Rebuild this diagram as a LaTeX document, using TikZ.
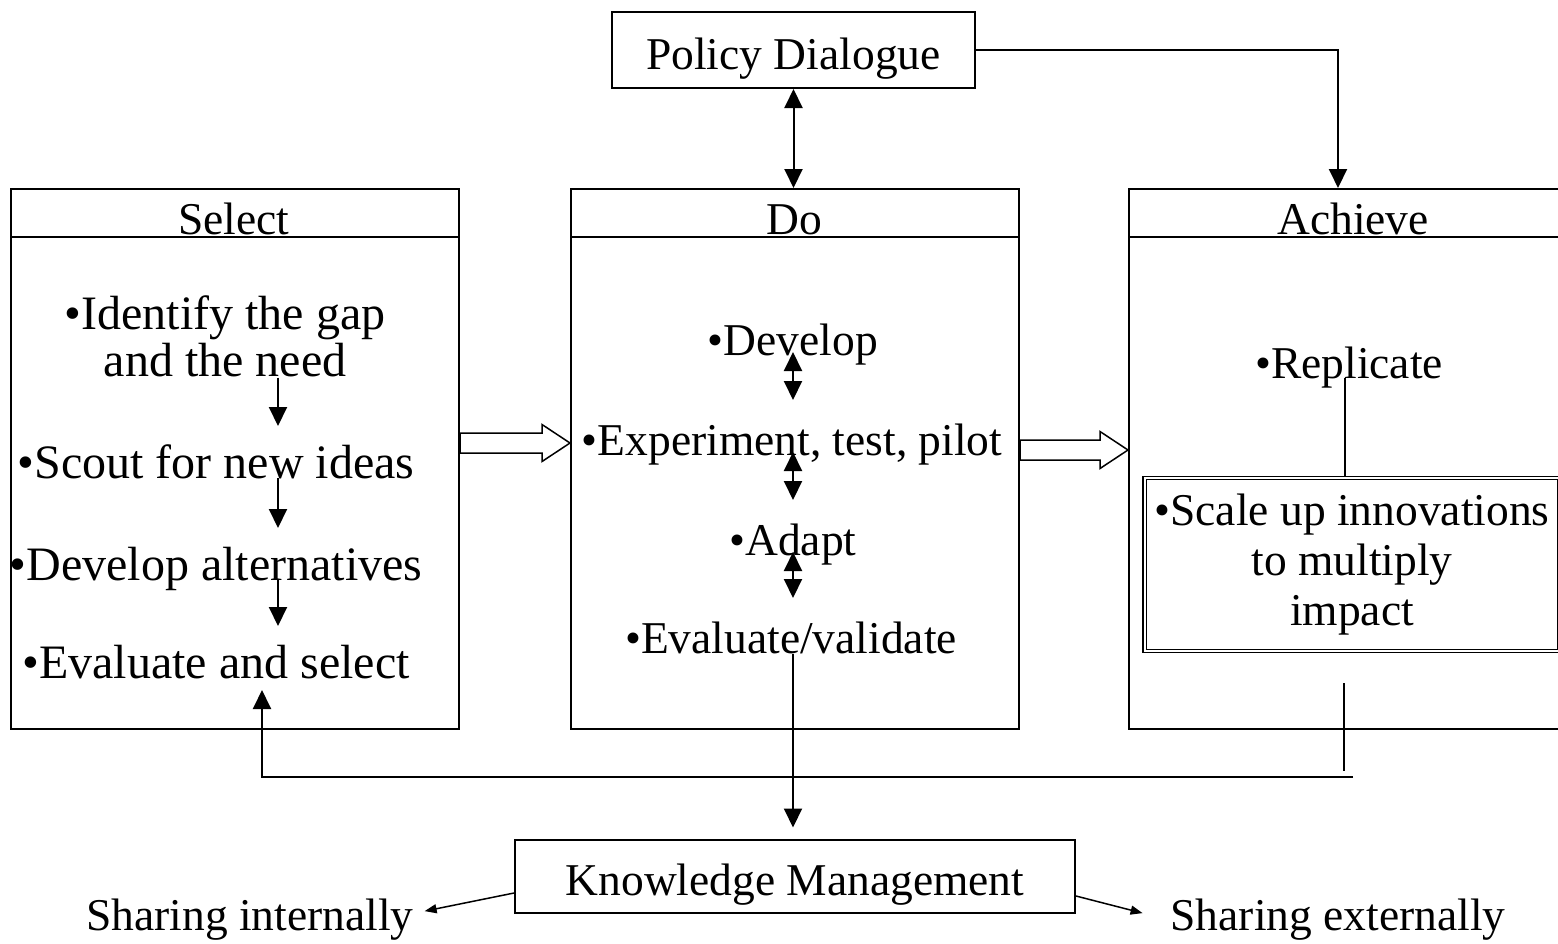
\documentclass[tikz,border=0pt]{standalone}
\usepackage{fontspec}
\setmainfont{Liberation Serif}
\usetikzlibrary{positioning, calc, arrows.meta}

% hollow block arrow between two points on one row
\newcommand{\blockarrow}[2]{%
  \draw[hollow] let \p1=(#1), \p2=(#2) in
    (\x1,\y1+10pt) -- (\x2-28pt,\y1+10pt) -- (\x2-28pt,\y1+18.5pt) -- (\x2,\y1)
    -- (\x2-28pt,\y1-18.5pt) -- (\x2-28pt,\y1-10pt) -- (\x1,\y1-10pt) -- cycle;}

\begin{document}
\begin{tikzpicture}[
    x=1pt, y=-1pt,
    font=\fontsize{45.5}{50}\selectfont,
    line width=2pt,
    panel/.style={draw, minimum width=448pt, minimum height=540pt, anchor=north west, inner sep=0pt},
    box/.style={draw, inner sep=0pt, text height=46pt, text depth=8pt},
    item/.style={inner sep=0pt, anchor=base},
    big/.style={font=\fontsize{48}{47}\selectfont},
    scalebox/.style={draw, double, double distance=2pt, line width=1.2pt, align=center,
        minimum width=415pt, minimum height=173pt, inner sep=0pt},
    tip/.style={-{Triangle[length=19pt,width=18pt]}},
    both/.style={{Triangle[length=19pt,width=18pt]}-{Triangle[length=19pt,width=18pt]}},
    small tip/.style={-{Triangle[length=12pt,width=9pt]}},
    hollow/.style={draw, fill=white, line width=1.5pt}
]
\useasboundingbox (0,0) rectangle (1558,943);

    % Three panels
    \node[panel] (sel) at (10,188) {};
    \node[panel] (do) at (570,188) {};
    \node[panel] (ach) at (1128,188) {};
    \foreach \p in {sel, do, ach}
        \draw ([yshift=-49pt]\p.north west) -- ([yshift=-49pt]\p.north east);

    % Headers
    \node[item] (selh) at (234,234) {Select};
    \node[item] (doh) at (794,234) {Do};
    \node[item] (achh) at (1353,234) {Achieve};

    % Policy Dialogue on top
    \node[box, minimum width=363pt, minimum height=76pt] (pd) at (793.5,50) {Policy Dialogue};
    \coordinate (acol) at (1338,0);
    \draw[both] (pd.south) -- (pd.south |- do.north);
    \draw[tip] (pd.east) -- (pd.east -| acol) -- (ach.north -| acol);

    % Select steps
    \node[big, align=center, inner sep=0pt] (gap) at (225,336) {•Identify the gap\\and the need};
    \node[big, item] (scout) at (216,478) {•Scout for new ideas};
    \node[big, item] (alt) at (216,580) {•Develop alternatives};
    \node[big, item] (evs) at (216,678) {•Evaluate and select};
    \coordinate (scol) at (278,0);
    \draw[tip] (gap.south -| scol) -- ([yshift=52pt]scout.base -| scol);
    \draw[tip] (scout.base -| scol) -- ([yshift=52pt]alt.base -| scol);
    \draw[tip] (alt.base -| scol) -- ([yshift=52pt]evs.base -| scol);

    % Do steps
    \node[item] (dev) at (793,355) {•Develop};
    \node[item] (exp) at (792,455) {•Experiment, test, pilot};
    \node[item] (adapt) at (793,555) {•Adapt};
    \node[item] (eval) at (791,653) {•Evaluate/validate};
    \coordinate (dcol) at (793,0);
    \draw[both] ([yshift=3pt]dev.base -| dcol) -- ([yshift=55pt]exp.base -| dcol);
    \draw[both] ([yshift=3pt]exp.base -| dcol) -- ([yshift=55pt]adapt.base -| dcol);
    \draw[both] ([yshift=3pt]adapt.base -| dcol) -- ([yshift=55pt]eval.base -| dcol);

    % Achieve steps
    \node[item] (rep) at (1349,378) {•Replicate};
    \node[scalebox] (scale) at (1352,564.5) {•Scale up innovations\\to multiply\\impact};
    \coordinate (rcol) at (1345,0);
    \draw (rep.base -| rcol) -- (scale.north -| rcol);

    % Block arrows between panels
    \coordinate (brow1) at (0,443);
    \coordinate (brow2) at (0,450);
    \blockarrow{sel.east |- brow1}{do.west |- brow1}
    \blockarrow{do.east |- brow2}{ach.west |- brow2}

    % Feedback to Select
    \coordinate (fbtop) at (1344,683);
    \coordinate (fbend) at (1344,771);
    \coordinate (fbstart) at (1353,777);
    \coordinate (fbx) at (262,0);
    \draw (fbtop) -- (fbend);
    \draw[tip] (fbstart) -- (fbstart -| fbx) -- ([yshift=-12pt]evs.base -| fbx);

    % Knowledge Management
    \node[box, minimum width=560pt, minimum height=73pt] (km) at (795,876) {Knowledge Management};
    \draw[tip] (eval.south -| dcol) -- ([yshift=11pt]km.north -| dcol);

    \node[item] (shin) at (250,930) {Sharing internally};
    \node[item] (shex) at (1338,930) {Sharing externally};
    \draw[small tip, line width=1.5pt] ([yshift=-17pt]km.west) -- ([xshift=10pt,yshift=8pt]shin.east);
    \draw[small tip, line width=1.5pt] ([yshift=-20pt]km.east) -- ([xshift=-27pt,yshift=6pt]shex.west);

\end{tikzpicture}
\end{document}
